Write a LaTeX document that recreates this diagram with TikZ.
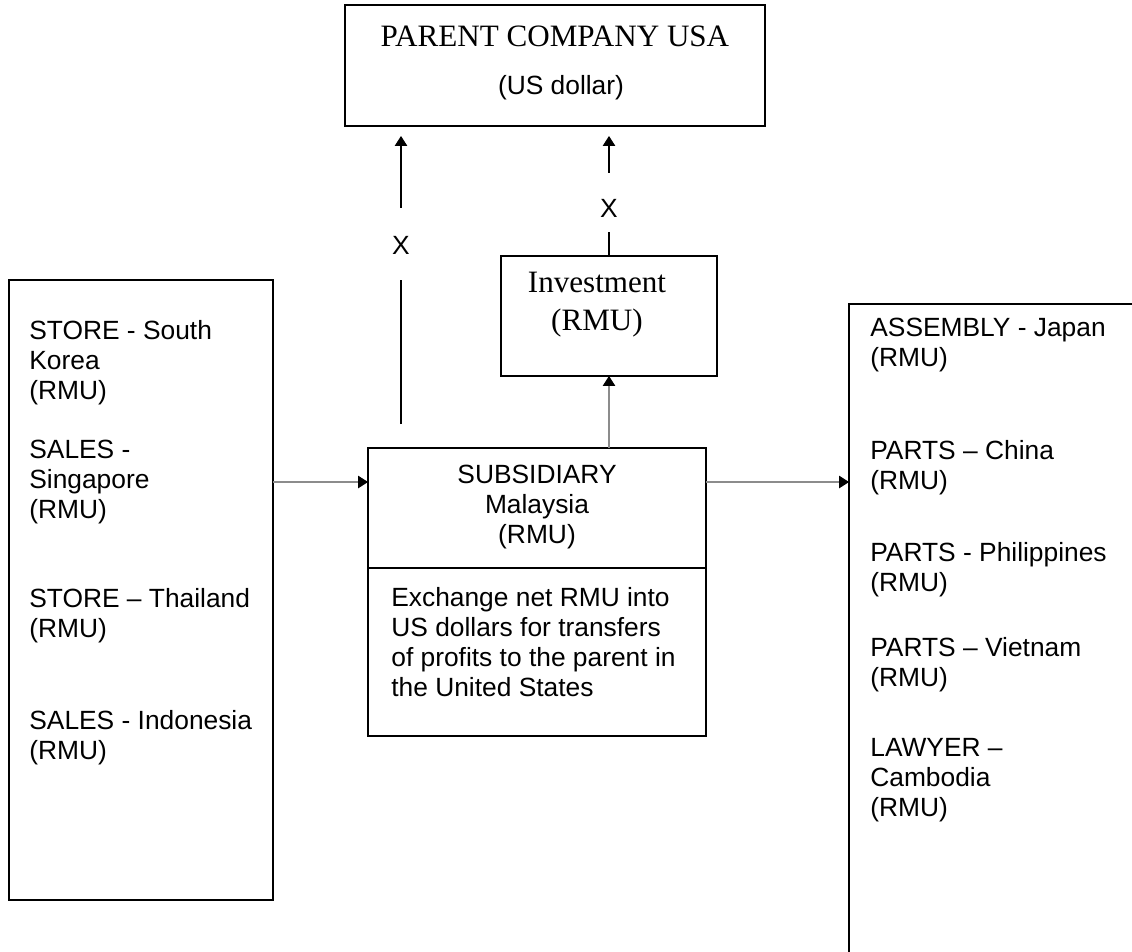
\documentclass[tikz,border=0pt]{standalone}
\usepackage{fontspec}
\setmainfont{Liberation Serif}
\setsansfont{Liberation Sans}
\usetikzlibrary{arrows.meta}
\usetikzlibrary{positioning}

\begin{document}
\begin{tikzpicture}[x=0.02cm,y=-0.02cm,>={Triangle[length=5.6pt,width=7pt]},
    box/.style={draw,line width=1pt,inner sep=0pt,outer sep=0pt},
    lst/.style={anchor=north west,align=left,inner sep=0pt,font=\sffamily\fontsize{15}{17}\selectfont},
    cross/.style={anchor=base,inner sep=0pt,font=\sffamily\fontsize{15}{17}\selectfont},
    flow/.style={draw=black!45,line width=0.6pt,-{Triangle[length=5.6pt,width=7pt,color=black]}}]
    \useasboundingbox (0,0) rectangle (1132,951);
    \clip (0,0) rectangle (1132,951);
    % boxes
    \node[box,minimum width=8.4cm,minimum height=2.42cm] (parent) at (555,65.5) {};
    \node[box,minimum width=4.32cm,minimum height=2.4cm] (inv) at (609,316) {};
    \node[box,minimum width=6.76cm,minimum height=2.4cm] (sub) at (537,508) {};
    \node[box,minimum width=6.76cm,minimum height=3.36cm,below=0pt of sub] (subnote) {};
    \node[box,minimum width=5.28cm,minimum height=12.4cm] (src) at (141,590) {};
    \node[box,minimum width=7.2cm,minimum height=14cm] (dst) at (1029,654) {};

    \node[anchor=base,font=\fontsize{17.7}{21}\selectfont] (parentname) at (555,46) {PARENT COMPANY USA};
    \node[anchor=base,font=\sffamily\fontsize{15}{17}\selectfont] (parentcur) at (561,94) {(US dollar)};
    \node[anchor=north,align=center,inner sep=0pt,font=\fontsize{17.7}{21.5}\selectfont] (invname) at (597,272) {Investment\\(RMU)};
    \node[lst,anchor=north,align=center] (subname) at (537,465) {SUBSIDIARY\\Malaysia\\(RMU)};
    \node[lst] (subtask) at (391,587) {Exchange net RMU into\\US dollars for transfers\\of profits to the parent in\\the United States};

    \node[lst] (korea) at (29,320) {STORE - South\\Korea\\(RMU)};
    \node[lst] (singapore) at (29,440) {SALES -\\Singapore\\(RMU)};
    \node[lst] (thailand) at (29,588) {STORE – Thailand\\(RMU)};
    \node[lst] (indonesia) at (29,710) {SALES - Indonesia\\(RMU)};

    \node[lst] (japan) at (870,318) {ASSEMBLY - Japan\\(RMU)};
    \node[lst] (china) at (870,440) {PARTS – China\\(RMU)};
    \node[lst] (philippines) at (870,542) {PARTS - Philippines\\(RMU)};
    \node[lst] (vietnam) at (870,637) {PARTS – Vietnam\\(RMU)};
    \node[lst] (cambodia) at (870,738) {LAWYER –\\Cambodia\\(RMU)};

    % flows in RMU
    \coordinate (feed) at (0,482);
    \draw[flow] (src.east |- feed) -- (sub.west |- feed);
    \draw[flow] (sub.east |- feed) -- (dst.west |- feed);
    \draw[flow] (sub.north -| inv) -- (inv.south);

    % transfers to the parent, crossed out
    \coordinate (remit) at (401,424);
    \node[cross,text height=0.93cm,text depth=0.51cm] (xa) at (401,254.5) {X};
    \node[cross,text height=0.89cm,text depth=0.29cm] (xb) at (609,217.5) {X};
    \draw[line width=0.6pt] (remit) -- (xa);
    \draw[line width=0.6pt,->,shorten >=0.2cm] (xa) -- (xa |- parent.south);
    \draw[line width=0.6pt] (inv) -- (xb);
    \draw[line width=0.6pt,->,shorten >=0.2cm] (xb) -- (xb |- parent.south);
\end{tikzpicture}
\end{document}
